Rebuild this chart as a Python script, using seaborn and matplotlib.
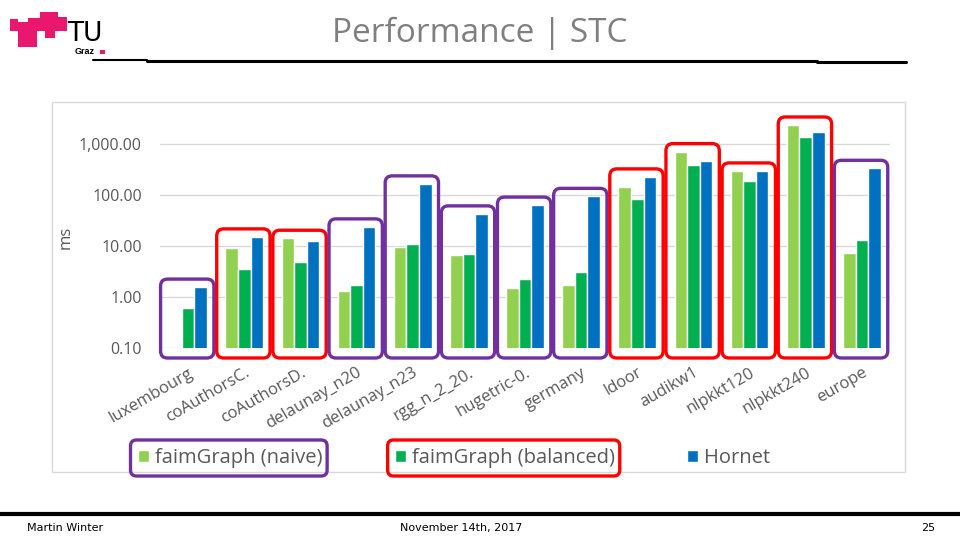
import matplotlib
matplotlib.use("Agg")
import matplotlib.pyplot as plt
import numpy as np
import pandas as pd
import seaborn as sns
from matplotlib.lines import Line2D
from matplotlib.patches import FancyBboxPatch, Rectangle
from matplotlib.ticker import NullLocator
from matplotlib.transforms import IdentityTransform

# values (ms, log axis)
graphs = ["luxembourg", "coAuthorsC.", "coAuthorsD.", "delaunay_n20", "delaunay_n23",
          "rgg_n_2_20.", "hugetric-0.", "germany", "ldoor", "audikw1",
          "nlpkkt120", "nlpkkt240", "europe"]
naive = [np.nan, 9.0, 14.3, 1.33, 9.7, 6.8, 1.50, 1.69, 146, 718, 300, 2395, 7.4]
balanced = [0.62, 3.5, 4.9, 1.75, 11.1, 7.1, 2.29, 3.14, 85, 394, 191, 1413, 13.3]
hornet = [1.57, 15.2, 12.9, 23.9, 167, 43, 64, 95, 229, 471, 300, 1747, 338]
series = ["faimGraph (naive)", "faimGraph (balanced)", "Hornet"]
colors = ["#92D050", "#00B050", "#0070C0"]
yticks = [0.1, 1, 10, 100, 1000]
balanced_wins = ["coAuthorsC.", "coAuthorsD.", "ldoor", "audikw1", "nlpkkt120", "nlpkkt240"]

df = pd.DataFrame({
    "graph": graphs * 3,
    "series": [series[0]] * 13 + [series[1]] * 13 + [series[2]] * 13,
    "ms": naive + balanced + hornet,
})

sns.set_style("white")
plt.rcParams["font.family"] = ["Open Sans", "DejaVu Sans"]

W, H = 960, 540
fig = plt.figure(figsize=(9.6, 5.4), dpi=100)


def fx(x):
    return x / W


def fy(y):
    return 1 - y / H


grey = "#595959"
purple = "#7030A0"
red = "#FF0000"

ax = fig.add_axes([fx(160), fy(348), 730 / W, 228 / H])
sns.barplot(data=df, x="graph", y="ms", hue="series", hue_order=series,
            palette=colors, width=0.67, saturation=1, errorbar=None, ax=ax)
ax.set_yscale("log")
ax.set_ylim(0.1, 3000)
ax.set_xlim(-0.5, 12.5)
ax.yaxis.set_minor_locator(NullLocator())
ax.set_yticks(yticks)
ax.set_yticklabels([f"{v:,.2f}" for v in yticks], color=grey, fontsize=11.5)
ax.set_xticks(range(len(graphs)))
ax.set_xticklabels(graphs, color=grey, fontsize=12)
ax.tick_params(axis="y", length=0, pad=13)
ax.tick_params(axis="x", length=0, pad=12, labelrotation=30)
plt.setp(ax.get_xticklabels(), ha="right", rotation_mode="anchor")
ax.grid(axis="y", color="#d9d9d9", lw=1)
ax.set_axisbelow(True)
for s in ax.spines.values():
    s.set_visible(False)
ax.set_xlabel("")
ax.set_ylabel("")
fig.text(fx(66), fy(237), "ms", rotation=90, ha="center", va="center",
         color=grey, fontsize=12)

handles, labels = ax.get_legend_handles_labels()
ax.get_legend().remove()
leg = fig.legend(handles, labels, loc="center", bbox_to_anchor=(fx(454), fy(458)),
                 ncol=3, frameon=False, fontsize=14.5, handlelength=0.55,
                 handleheight=0.55, handletextpad=0.3, columnspacing=3.6,
                 labelcolor=grey)

# chart frame
fig.add_artist(Rectangle((fx(52), fy(472)), 853 / W, 370 / H, transform=fig.transFigure,
                         fill=False, ec="#d9d9d9", lw=1))

fig.canvas.draw()
renderer = fig.canvas.get_renderer()

# rounded boxes around every graph group
for i, g in enumerate(graphs):
    top = np.nanmax([naive[i], balanced[i], hornet[i]])
    x0, y0 = ax.transData.transform((i - 0.49, 0.1))
    x1, y1 = ax.transData.transform((i + 0.46, top))
    y0 -= 10
    y1 += 8
    col = red if g in balanced_wins else purple
    fig.add_artist(FancyBboxPatch((x0, y0), x1 - x0, y1 - y0,
                                  boxstyle="round,pad=0,rounding_size=7",
                                  transform=IdentityTransform(), fill=False,
                                  ec=col, lw=2.4, zorder=5))

# boxes around the first two legend entries
for k, col in enumerate([purple, red]):
    hb = leg.legend_handles[k].get_window_extent(renderer)
    tb = leg.get_texts()[k].get_window_extent(renderer)
    cy = (tb.y0 + tb.y1) / 2
    fig.add_artist(FancyBboxPatch((hb.x0 - 7, cy - 18), tb.x1 - hb.x0 + 12, 36,
                                  boxstyle="round,pad=0,rounding_size=6",
                                  transform=IdentityTransform(), fill=False,
                                  ec=col, lw=2.4))

# slide header: TU Graz logo, title, rule
pink = "#E9186E"
logo = [(10, 19, 8, 12), (18, 22, 49, 9), (18, 31, 19, 16), (40, 12, 18, 10),
        (28, 18, 12, 4), (45, 31, 10, 7), (58, 17, 9, 5)]
for x, y, w, h in logo:
    fig.add_artist(Rectangle((fx(x), fy(y + h)), w / W, h / H,
                             transform=fig.transFigure, color=pink, lw=0))
fig.text(fx(67), fy(41), "TU", ha="left", va="baseline", fontsize=19,
         family=["Liberation Sans Narrow", "DejaVu Sans"], color="black")
fig.text(fx(75), fy(51.5), "Graz", ha="left", va="center", fontsize=6.5,
         weight="bold", family=["Liberation Sans", "DejaVu Sans"], color="black")
fig.add_artist(Rectangle((fx(100), fy(54)), 5 / W, 4 / H, transform=fig.transFigure,
                         color=pink, lw=0))
fig.text(fx(480), fy(33), "Performance | STC", ha="center", va="center",
         fontsize=24, color="#7f7f7f")
fig.add_artist(Line2D([fx(93), fx(147)], [fy(59.5), fy(59.5)], transform=fig.transFigure,
                      color="black", lw=1.5))
fig.add_artist(Line2D([fx(147), fx(817)], [fy(60.5), fy(60.5)], transform=fig.transFigure,
                      color="black", lw=2.2))
fig.add_artist(Line2D([fx(817), fx(906)], [fy(61.5), fy(61.5)], transform=fig.transFigure,
                      color="black", lw=2.2))

# footer
fig.add_artist(Line2D([0, 1], [fy(514), fy(514)], transform=fig.transFigure,
                      color="black", lw=3))
foot = dict(va="center", fontsize=8, family=["Liberation Sans Narrow", "DejaVu Sans"],
            color="black")
fig.text(fx(27), fy(528), "Martin Winter", ha="left", **foot)
fig.text(fx(400), fy(528), "November 14th, 2017", ha="left", **foot)
fig.text(fx(935), fy(528), "25", ha="right", **foot)

fig.savefig("out.png", dpi=100)
